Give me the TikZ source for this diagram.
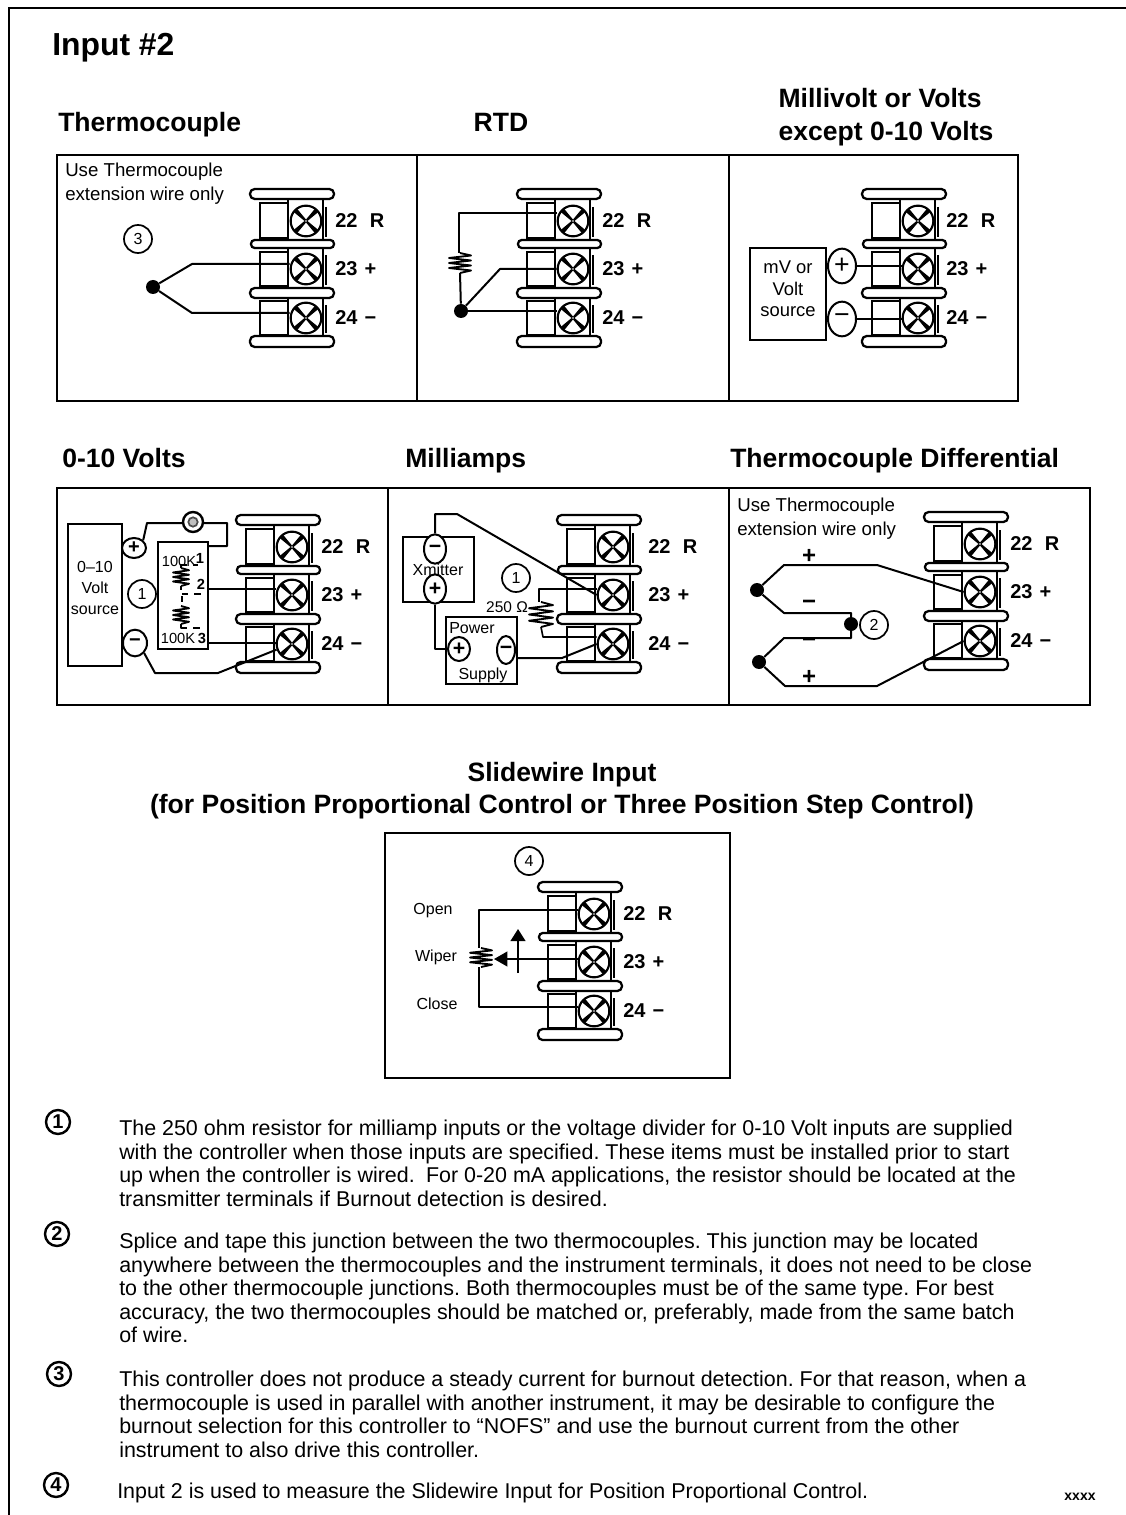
\documentclass[tikz,border=0pt]{standalone}
\usepackage{fontspec}
\setmainfont{Liberation Sans}
\usetikzlibrary{shapes.geometric,arrows.meta,calc}
\newcommand{\fz}[1]{\fontsize{#1}{#1}\selectfont}
\tikzset{
  px/.style={x=0.75pt,y=-0.75pt},
  frame/.style={line width=1.9pt,draw=black},
  wire/.style={line width=1.5pt,draw=black,line join=round},
  thinwire/.style={line width=1.2pt,draw=black,line join=round},
  barshape/.style={line width=1.7pt,draw=black,fill=white,rounded corners=3.5pt},
  barmid/.style={line width=1.7pt,draw=black,fill=white,rounded corners=2.8pt},
  cell/.style={line width=1.5pt,draw=black,fill=white},
  screwbody/.style={circle,draw=black,fill=white,line width=1.6pt,minimum size=23pt,inner sep=0pt},
  head/.style={inner sep=0pt,font=\bfseries\fz{19.9}},
  termlabel/.style={anchor=west,inner sep=0pt,font=\bfseries\fz{15}},
  small/.style={inner sep=0pt,font=\fontsize{14}{18}\selectfont,align=left},
  note/.style={inner sep=0pt,anchor=north west,align=left,font=\fontsize{16.08}{17.6}\selectfont},
  numc/.style={circle,draw=black,line width=1.3pt,minimum size=21pt,inner sep=0pt,font=\fz{12}},
  noten/.style={circle,draw=black,line width=1.8pt,minimum size=18pt,inner sep=0pt,font=\bfseries\fz{15}},
  dotn/.style={circle,fill=black,minimum size=10.5pt,inner sep=0pt},
  pm/.style={ellipse,draw=black,fill=white,line width=1.5pt,inner sep=0pt},
  srcbox/.style={draw=black,line width=1.6pt,fill=white,inner sep=0pt},
  tiny/.style={inner sep=0pt,font=\fz{11}},
  tinyb/.style={inner sep=0pt,font=\bfseries\fz{11}},
  sign/.style={inner sep=0pt,font=\bfseries\fz{18}},
}
\newcommand{\screw}[3]{%
  \node[screwbody] (#1) at (#2,#3) {};
  \begin{scope}[shift={(#2,#3)}]
    \foreach \a in {45,135,225,315}{%
      \fill[black,rotate=\a] (0.8,-1.0) -- (14.6,-2.3) -- (14.6,2.3) -- (0.8,1.0) -- cycle;
    }
  \end{scope}
}
% name, x, y, label offset
\newcommand{\tblock}[4]{%
  \begin{scope}[shift={(#2,#3)}]
    \draw[cell] (10,14) rectangle (38,49);
    \draw[cell] (10,63) rectangle (38,97);
    \draw[cell] (10,112) rectangle (38,146);
    \draw[cell] (38,10) rectangle (73,51);
    \draw[cell] (38,59) rectangle (73,100);
    \draw[cell] (38,108) rectangle (73,147);
    \foreach \ya/\yb in {18/48,66/96,116/144}{\draw[line width=1.7pt] (76,\ya) -- (76,\yb);}
    \draw[barshape] (0,0) rectangle (84,10);
    \draw[barmid] (1,51) rectangle (84,59);
    \draw[barshape] (0,99) rectangle (84,109);
    \draw[barshape] (0,147) rectangle (84,158);
    \screw{#1-s1}{56}{32}
    \screw{#1-s2}{56}{80}
    \screw{#1-s3}{56}{129}
    \node[termlabel] (#1-l1) at (#4,32) {22\hspace{0.62em}R};
    \node[termlabel] (#1-l2) at (#4,80) {23\hspace{0.35em}+};
    \node[termlabel] (#1-l3) at (#4,129) {24\hspace{0.35em}−};
  \end{scope}
}
% vertical zigzag: xc,y0,y1,half amplitude
\newcommand{\zigv}[4]{%
  \draw[wire,line width=1.4pt] (#1,#2) -- ({#1+#4},{#2+(#3-#2)/8}) -- ({#1-#4},{#2+(#3-#2)*2/8}) -- ({#1+#4},{#2+(#3-#2)*3/8}) -- ({#1-#4},{#2+(#3-#2)*4/8}) -- ({#1+#4},{#2+(#3-#2)*5/8}) -- ({#1-#4},{#2+(#3-#2)*6/8}) -- ({#1+#4},{#2+(#3-#2)*7/8}) -- (#1,#3);
}
\frenchspacing
\begin{document}
\begin{tikzpicture}[px]
\useasboundingbox (0,0) rectangle (1126,1515);
\fill[white] (0,0) rectangle (1126,1515);
\draw[frame,line width=2.2pt] (9,1515) -- (9,8) -- (1126,8);

% headings
\node[inner sep=0pt,anchor=west,font=\bfseries\fz{23.9}] (title) at (52,48) {Input \#2};
\node[head,anchor=west] (hTC) at (58,125) {Thermocouple};
\node[head] (hRTD) at (501,122) {RTD};
\node[head] (hMV) at (880,98) {Millivolt or Volts};
\node[head] (hMW) at (886,134) {except 0-10 Volts};
\node[head,anchor=west] (h010) at (62,458) {0-10 Volts};
\node[head,anchor=west] (hMA) at (405,461) {Milliamps};
\node[head,anchor=west] (hTD) at (730,461) {Thermocouple Differential};
\node[head] (hSW) at (562,775) {Slidewire Input};
\node[head] (hSX) at (562,807) {(for Position Proportional Control or Three Position Step Control)};

% row frames
\draw[frame] (57,155) rectangle (1018,401);
\draw[frame] (417,155) -- (417,401);
\draw[frame] (729,155) -- (729,401);
\draw[frame] (57,488) rectangle (1090,705);
\draw[frame] (388,488) -- (388,705);
\draw[frame] (729,488) -- (729,705);
\draw[frame] (385,833) rectangle (730,1078);

% Thermocouple
\node[small,anchor=north west] (tcnote) at (65,163) {Use Thermocouple\\extension wire only};
\tblock{tc}{250}{189}{85}
\node[numc] (tcn) at (138,239) {3};
\node[dotn] (tcd) at (153,287) {};
\draw[wire] (tcd) -- (192,264) -- (tc-s2.west |- 192,264);
\draw[wire] (tcd) -- (192,313) -- (tc-s3.west |- 192,313);

% RTD
\tblock{rt}{517}{189}{85}
\node[dotn] (rtd) at (461,311) {};
\draw[wire] (rt-s1.west |- 459,213) -- (459,213) -- (459,253);
\zigv{460}{253}{273}{11}
\draw[wire] (460,273) -- (rtd);
\draw[wire] (rtd) -- (500,269) -- (rt-s2.west |- 500,269);
\draw[wire] (rtd) -- (rt-s3.west |- rtd);

% mV
\tblock{mv}{862}{189}{84}
\node[srcbox,minimum width=57pt,minimum height=69pt] (mvb) at (788,294) {};
\node[inner sep=0pt,font=\fontsize{13.8}{16}\selectfont,align=center] (mvt) at (788,289) {mV or\\Volt\\source};
\node[pm,minimum width=21pt,minimum height=26pt,font=\fz{20}] (mvp) at (842,266) {+};
\node[pm,minimum width=21pt,minimum height=26pt,font=\fz{20}] (mvm) at (842,319) {−};
\draw[wire] (mvp) -- (mv-s2.west |- mvp);
\draw[wire] (mvm) -- (mv-s3.west |- mvm);

% 0-10 Volts
\tblock{zt}{236}{515}{85}
\node[srcbox,minimum width=40.5pt,minimum height=106pt] (ztb) at (95,595) {};
\node[inner sep=0pt,font=\fontsize{12}{15.8}\selectfont,align=center] (ztt) at (95,588) {0–10\\Volt\\source};
\node[numc] (ztn) at (142,594) {1};
\node[srcbox,minimum width=37.5pt,minimum height=80pt] (ztd) at (183,595.5) {};
\node[pm,minimum width=18pt,minimum height=15pt,font=\bfseries\fz{15}] (ztp) at (134,548) {+};
\node[pm,minimum width=18pt,minimum height=20pt,font=\bfseries\fz{15}] (ztm) at (135,643) {−};
\draw[wire] (ztp.north east) -- (147,523) -- (227,523) -- (227,546) -- (ztd.east |- 227,546);
\node[circle,draw=black,fill=white,line width=1.8pt,minimum size=15pt,inner sep=0pt] (ztr) at (193,522) {};
\node[circle,draw=black!70,fill=black!25,line width=1.3pt,minimum size=7pt,inner sep=0pt] (ztri) at (193,522) {};
\draw[thinwire] (ztd.east |- 0,589) -- (zt-s2.west |- 0,589);
\draw[wire] (ztd.east |- 0,643) -- (zt-s3.west |- 0,643);
\draw[wire] (ztm.south east) -- (155,673) -- (218,673) -- (zt-s3.200);
\node[tiny] (ztk1) at (179,561) {100K};
\node[tiny] (ztk2) at (178,638) {100K};
\node[tinyb] (ztn1) at (200,558) {1};
\node[tinyb] (ztn2) at (201,584) {2};
\node[tinyb] (ztn3) at (202,638) {3};
\zigv{181}{568}{586}{8}
\zigv{181}{606}{624}{8}
\draw[thinwire] (181,564) -- (181,568);
\draw[thinwire] (181,565) -- (187,565);
\draw[thinwire] (193,565) -- (198,565);
\draw[thinwire] (194,594) -- (201,594);
\draw[thinwire] (182,594) -- (188,594);
\draw[thinwire] (182,596) -- (182,602);
\draw[thinwire] (181,586) -- (181,590);
\draw[thinwire] (181,624) -- (181,628) -- (187,628);
\draw[thinwire] (193,628) -- (200,628);

% Milliamps
\tblock{ma}{557}{515}{91}
\node[srcbox,minimum width=53pt,minimum height=49pt] (mab) at (438.5,569.5) {};
\node[inner sep=0pt,font=\fz{12}] (mat) at (438,570) {Xmitter};
\node[pm,minimum width=16.5pt,minimum height=22pt,font=\bfseries\fz{16}] (mam) at (435,549) {−};
\node[pm,minimum width=16.5pt,minimum height=22pt,font=\bfseries\fz{16}] (map) at (435,589) {+};
\node[srcbox,minimum width=53pt,minimum height=50pt] (mas) at (481.5,650.5) {};
\node[inner sep=0pt,font=\fz{12},anchor=west] (mapw) at (449,628) {Power};
\node[inner sep=0pt,font=\fz{12}] (masp) at (483,675) {Supply};
\node[pm,minimum width=16.5pt,minimum height=18pt,font=\bfseries\fz{16}] (msp) at (459,649) {+};
\node[pm,minimum width=13.5pt,minimum height=21pt,font=\bfseries\fz{16}] (msm) at (506,650) {−};
\node[numc] (man) at (516,578) {1};
\node[inner sep=0pt,font=\fz{11.6}] (maohm) at (507,607) {250 Ω};
\draw[wire] (mam.north) -- (mam.north |- 0,514) -- (457,514) -- (ma-s2.west);
\draw[wire] (map.south) -- (map.south |- msp.west) -- (msp.west);
\draw[wire] (msm.east |- 0,658) -- (562,658) -- (ma-s3.west);
\draw[thinwire] (ma-s2.west |- 0,589) -- (539,589) -- (539,602);
\zigv{541}{602}{627}{12}
\draw[thinwire] (541,627) -- (543,637) -- (ma-s3.west |- 0,637);

% Thermocouple differential
\node[small,anchor=north west] (tdnote) at (737,498) {Use Thermocouple\\extension wire only};
\tblock{td}{924}{512}{86}
\node[dotn] (td1) at (757,590) {};
\node[dotn] (td2) at (759,662) {};
\node[dotn] (tdj) at (851,624) {};
\node[numc] (tdn) at (874,625) {2};
\draw[wire] (td1) -- (784,565) -- (877,565) -- (td-s2.west);
\draw[wire] (td1) -- (784,613) -- (851,613) -- (851,638) -- (784,638) -- (td2);
\draw[wire] (td2) -- (785,686) -- (877,686) -- (td-s3.west);
\node[sign] (tds1) at (809,556) {+};
\node[sign] (tds2) at (809,605) {−};
\node[sign] (tds3) at (809,643) {−};
\node[sign] (tds4) at (809,677) {+};

% Slidewire
\tblock{sw}{538}{882}{85}
\node[numc] (swn) at (529,861) {4};
\node[inner sep=0pt,font=\fz{12}] (swo) at (433,911) {Open};
\node[inner sep=0pt,font=\fz{12}] (swi) at (436,957) {Wiper};
\node[inner sep=0pt,font=\fz{12}] (swc) at (437,1004) {Close};
\coordinate (swt) at (494,959);
\coordinate (swub) at (518,973);
\coordinate (swut) at (518,929);
\draw[wire] (sw-s1.west |- 479,910) -- (479,910) -- (479,948);
\zigv{481}{948}{967}{11}
\draw[wire] (479,967) -- (479,1007) -- (sw-s3.west |- 479,1007);
\draw[wire,-{Triangle[length=10pt,width=11pt]}] (sw-s2.west |- swt) -- (swt);
\draw[wire,-{Triangle[length=9pt,width=11pt]}] (swub) -- (swut);

% notes
\node[noten] (n1) at (58,1122) {1};
\node[note] (t1) at (119,1120) {The 250 ohm resistor for milliamp inputs or the voltage divider for 0-10 Volt inputs are supplied\\with the controller when those inputs are specified. These items must be installed prior to start\\up when the controller is wired.\hspace{0.25em} For 0-20 mA applications, the resistor should be located at the\\transmitter terminals if Burnout detection is desired.};
\node[noten] (n2) at (57,1234) {2};
\node[note] (t2) at (119,1233) {Splice and tape this junction between the two thermocouples. This junction may be located\\anywhere between the thermocouples and the instrument terminals, it does not need to be close\\to the other thermocouple junctions. Both thermocouples must be of the same type. For best\\accuracy, the two thermocouples should be matched or, preferably, made from the same batch\\of wire.};
\node[noten] (n3) at (59,1374) {3};
\node[note] (t3) at (119,1371) {This controller does not produce a steady current for burnout detection. For that reason, when a\\thermocouple is used in parallel with another instrument, it may be desirable to configure the\\burnout selection for this controller to “NOFS” and use the burnout current from the other\\instrument to also drive this controller.};
\node[noten] (n4) at (56,1485) {4};
\node[note] (t4) at (117,1483) {Input 2 is used to measure the Slidewire Input for Position Proportional Control.};
\node[inner sep=0pt,font=\bfseries\fz{10.5}] (xx) at (1080,1497) {xxxx};
\end{tikzpicture}
\end{document}
